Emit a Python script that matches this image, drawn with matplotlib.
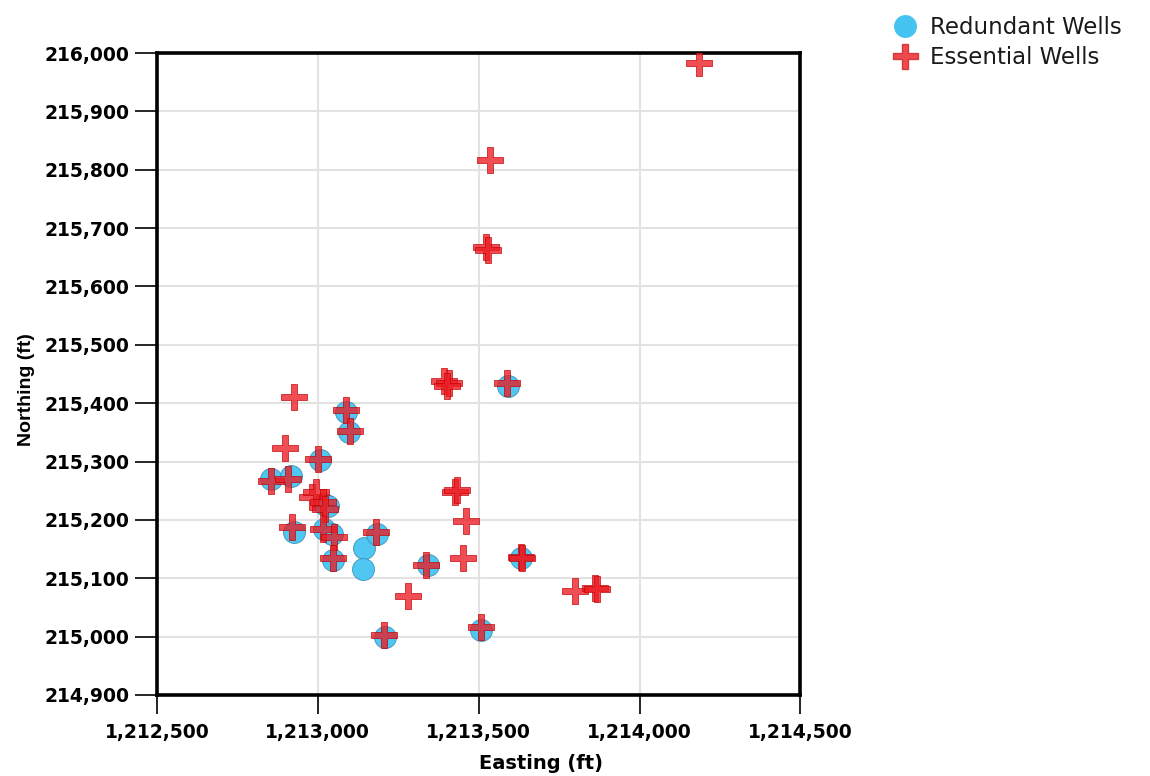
import numpy as np
import matplotlib.pyplot as plt
from matplotlib.path import Path
from matplotlib.lines import Line2D
from matplotlib.ticker import FuncFormatter, MultipleLocator

# well coordinates (ft)
redundant_e = [1213590, 1213088, 1213098, 1213008, 1212853, 1212918, 1213020, 1213033,
               1212927, 1213020, 1213045, 1213048, 1213144, 1213141, 1213184, 1213342,
               1213209, 1213506, 1213633]
redundant_n = [215429, 215385, 215351, 215303, 215270, 215275, 215228, 215224,
               215180, 215185, 215176, 215132, 215152, 215116, 215176, 215122,
               215000, 215012, 215134]

essential_e = [1214184, 1213534, 1213522, 1213528, 1213392, 1213407, 1213401, 1213587,
               1212927, 1212899, 1213088, 1213101, 1213002, 1212853, 1212906, 1212983,
               1212995, 1213017, 1213023, 1212921, 1213017, 1213051, 1213048, 1213181,
               1213336, 1213426, 1213432, 1213460, 1213450, 1213280, 1213206, 1213506,
               1213630, 1213636, 1213800, 1213862, 1213868]
essential_n = [215983, 215817, 215667, 215663, 215438, 215434, 215429, 215434,
               215410, 215323, 215388, 215352, 215304, 215267, 215270, 215239,
               215248, 215231, 215219, 215188, 215185, 215171, 215134, 215180,
               215122, 215248, 215251, 215198, 215134, 215070, 215002, 215017,
               215137, 215134, 215079, 215084, 215082]

# plus-shaped marker with thinner arms than 'P'
t = 0.12
plus_verts = [(-t, 0.5), (t, 0.5), (t, t), (0.5, t), (0.5, -t), (t, -t), (t, -0.5),
              (-t, -0.5), (-t, -t), (-0.5, -t), (-0.5, t), (-t, t), (-t, 0.5)]
plus_marker = Path(plus_verts, closed=True)

blue = '#45c4f2'
red = '#ec1c24'

fig = plt.figure(figsize=(11.5, 7.76), dpi=100)
ax = fig.add_axes([0.1365, 0.1044, 0.5595, 0.8273])

ax.scatter(redundant_e, redundant_n, s=250, c=blue, edgecolors='#3a8fb0',
           linewidths=0.6, alpha=0.95, zorder=3)
ax.scatter(essential_e, essential_n, s=330, marker=plus_marker, c=red,
           edgecolors='#c00000', linewidths=0.6, alpha=0.78, zorder=4)

ax.set_xlim(1212500, 1214500)
ax.set_ylim(214900, 216000)
ax.xaxis.set_major_locator(MultipleLocator(500))
ax.yaxis.set_major_locator(MultipleLocator(100))
ax.xaxis.set_major_formatter(FuncFormatter(lambda v, p: f'{int(v):,}'))
ax.yaxis.set_major_formatter(FuncFormatter(lambda v, p: f'{int(v):,}'))

ax.grid(True, color='#e2e2e2', linewidth=1.5, zorder=0)
ax.set_axisbelow(True)
for sp in ax.spines.values():
    sp.set_linewidth(2.6)
    sp.set_color('black')

ax.tick_params(axis='y', length=16, width=1.2, pad=4, labelsize=13.5)
ax.tick_params(axis='x', length=14, width=1.2, pad=6, labelsize=13.5)
for lab in ax.get_xticklabels() + ax.get_yticklabels():
    lab.set_fontweight('bold')
    lab.set_family('DejaVu Sans')

ax.set_xlabel('Easting (ft)', fontsize=14, fontweight='bold')
ax.xaxis.set_label_coords(0.597, -0.092)
ax.set_ylabel('Northing (ft)', fontsize=14, fontweight='bold', family='Liberation Sans')
ax.yaxis.set_label_coords(-0.19, 0.475)

handles = [
    Line2D([], [], marker='o', linestyle='none', markersize=15.5,
           markerfacecolor=blue, markeredgecolor=blue),
    Line2D([], [], marker=plus_marker, linestyle='none', markersize=18,
           markerfacecolor=red, markeredgecolor='#d02020', alpha=0.8),
]
fig.legend(handles, ['Redundant Wells', 'Essential Wells'], loc='upper left',
           bbox_to_anchor=(0.753, 1.0), frameon=False, fontsize=16.5,
           handletextpad=0.1, labelspacing=0.3, borderaxespad=0.3,
           labelcolor='#1a1a1a')

fig.savefig('out.png', dpi=100)
